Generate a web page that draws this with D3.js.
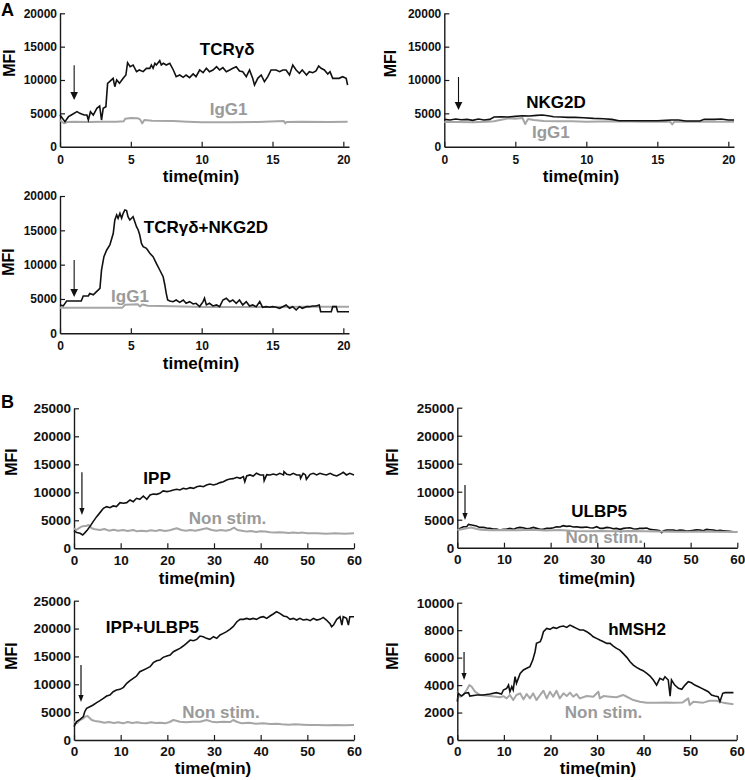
<!DOCTYPE html>
<html><head><meta charset="utf-8">
<script src="https://cdn.jsdelivr.net/npm/d3@7/dist/d3.min.js"></script>
<style>
body{margin:0;background:#fff;}
svg{display:block;font-family:"Liberation Sans",Arial,Helvetica,sans-serif;font-weight:bold;}
</style></head><body><svg id="chart" width="745" height="780"></svg>
<script>
// ---------- tick labels ----------
const ticksA_x = [0,5,10,15,20];
const ticksA_y = [0,5000,10000,15000,20000];
const ticksB_x = [0,10,20,30,40,50,60];
const ticksB_y = [0,5000,10000,15000,20000,25000];
const ticksB4_y = [0,2000,4000,6000,8000,10000];

// ---------- series [time(min), MFI] ----------
const tcrgd = [[0,4750],[0.35,3750],[0.6,4500],[0.8,4750],[1.2,5250],[1.4,5000],[1.7,4750],[1.9,4750],[2.0,4000],[2.15,5250],[2.35,4750],[2.6,5750],[2.8,6100],[2.93,4000],[3.05,5750],[3.24,6000],[3.36,9500],[3.5,9750],[3.75,10250],[3.87,9000],[4.0,10000],[4.2,9500],[4.46,10250],[4.65,10750],[4.77,12600],[4.95,12000],[5.16,12250],[5.4,11250],[5.6,11500],[5.87,11250],[6.1,11750],[6.34,11750],[6.45,12250],[6.57,11750],[6.7,12500],[6.8,12250],[7.04,12900],[7.15,12250],[7.3,12500],[7.5,12250],[7.75,12500],[8.0,11500],[8.2,10500],[8.45,10750],[8.7,10400],[8.9,10750],[9.15,10350],[9.4,10900],[9.6,10500],[9.86,11500],[10.1,11100],[10.33,11750],[10.55,11250],[10.8,11500],[11.05,12000],[11.27,11500],[11.5,11850],[11.74,11250],[11.98,11500],[12.2,11750],[12.44,12000],[12.67,11350],[12.9,11250],[13.15,10500],[13.38,11500],[13.6,10250],[13.73,9250],[13.96,10250],[14.2,10750],[14.43,9750],[14.67,10500],[14.9,11500],[15.26,11500],[15.5,11250],[15.73,11500],[15.96,11500],[16.2,10750],[16.43,12250],[16.67,11500],[16.9,11000],[17.1,11500],[17.4,10750],[17.6,11250],[17.84,11100],[18.07,11350],[18.26,12100],[18.43,11750],[18.66,11500],[18.9,10900],[19.06,11250],[19.25,10250],[19.5,10250],[19.7,10250],[19.95,10500],[20.2,10250],[20.3,9250]];
const igg1_a1 = [[0,4000],[0.15,3700],[0.3,3500],[0.5,3700],[1,3750],[2,3700],[3,3750],[4,3750],[4.5,3800],[4.6,4200],[5,4300],[5.5,4250],[5.65,4100],[5.8,3500],[5.95,4000],[6.5,3900],[8,3850],[9,3750],[10,3650],[12,3650],[14,3700],[15.8,3850],[15.9,3500],[16,3700],[17,3750],[19,3700],[20.3,3750]];
const nkg2d = [[0,4100],[0.4,4000],[0.8,4150],[1.2,4050],[1.6,4100],[2.0,3950],[2.4,4150],[2.8,4000],[3.2,4100],[3.5,4450],[4,4500],[4.5,4450],[5,4550],[5.5,4650],[6,4600],[6.5,4700],[6.9,4750],[7.3,4650],[7.7,4500],[8.2,4450],[8.7,4400],[9.2,4400],[9.8,4350],[10.5,4250],[11.2,4200],[11.8,4100],[12.3,3900],[13,3900],[14,3900],[15,3900],[15.6,3950],[16,4000],[16.5,4000],[17,3850],[18,3850],[18.3,4100],[19,4100],[19.5,4150],[20,4000],[20.4,4000]];
const igg1_a2 = [[0,3700],[1,3700],[2,3650],[3,3750],[3.5,3800],[4.2,4100],[4.5,4250],[5,4200],[5.5,4300],[5.7,3400],[5.9,4150],[6.3,4000],[7,3850],[8,3800],[9,3800],[10,3750],[12,3800],[14,3750],[15.9,3750],[16.05,3350],[16.2,3750],[17,3750],[20.4,3750]];
const tcrgdNkg2d = [[0,4125],[0.23,4000],[0.47,4700],[1.5,4700],[1.64,5440],[2.0,5440],[2.1,5800],[2.35,5600],[2.58,6070],[2.82,6550],[2.93,9200],[3.1,11160],[3.29,12100],[3.52,12860],[3.76,14560],[3.87,16500],[4.0,17230],[4.1,16750],[4.23,17470],[4.35,16750],[4.46,17470],[4.58,17960],[4.7,17870],[4.8,16990],[4.93,16500],[5.05,16750],[5.16,16990],[5.28,16260],[5.4,15530],[5.52,15050],[5.63,14320],[5.75,13100],[5.87,12620],[6.1,12380],[6.34,11650],[6.57,11160],[6.8,10190],[7.04,9220],[7.28,8250],[7.4,7040],[7.5,5820],[7.6,4850],[7.75,4700],[7.98,4600],[8.2,4850],[8.45,4510],[8.7,4850],[8.9,4370],[9.15,4610],[9.4,4270],[9.6,4370],[9.86,3900],[10.1,4610],[10.2,5100],[10.33,4130],[10.55,4370],[10.8,3980],[11.05,4130],[11.27,3880],[11.5,4850],[11.74,5100],[11.98,4610],[12.2,4850],[12.44,4370],[12.67,4850],[12.9,4130],[13.15,4610],[13.38,3980],[13.6,4130],[13.85,3880],[14.1,4610],[14.3,3790],[14.55,3880],[14.8,3790],[15.0,3880],[15.26,3790],[15.5,3640],[15.73,3880],[15.96,4130],[16.2,3640],[16.43,3880],[16.67,3400],[16.9,3880],[17.1,3640],[17.4,3880],[17.6,3880],[17.84,3980],[18.07,3980],[18.3,4130],[18.4,3150],[18.8,3150],[19.15,3150],[19.25,3880],[19.5,3880],[19.6,3150],[19.95,3150],[20.4,3150]];
const igg1_a3 = [[0,3740],[4.4,3740],[4.6,4150],[5.5,4220],[5.65,3900],[5.8,4200],[6.2,4000],[8,3950],[10,3830],[14,3830],[17,3850],[20.4,3880]];

const ipp = [[0,3150],[0.57,2800],[1.3,2680],[1.86,2380],[2.36,2800],[2.86,3270],[3.4,3870],[4.1,4760],[4.86,5650],[5.57,6370],[6.3,7140],[7.0,7440],[7.7,7260],[8.4,7560],[9.1,7440],[9.86,8150],[10.6,8040],[11.3,8150],[12,8630],[12.7,8330],[13.4,8930],[14.1,8750],[14.86,9340],[15.6,8750],[16.3,9520],[17,9700],[17.7,9640],[18.4,9820],[19.1,10240],[19.9,10120],[20.6,10240],[21.3,10420],[22,10540],[22.7,10420],[23.4,10700],[24.1,10600],[24.9,10830],[25.6,10700],[26.3,11000],[27,11130],[27.7,11000],[28.4,11300],[29.1,11480],[29.9,11300],[30.6,11480],[31.3,11730],[32,11900],[32.7,12200],[33.4,12380],[34.1,12440],[34.9,12680],[35.6,12500],[36.3,12800],[36.6,11900],[37,12910],[37.7,13100],[38.4,12910],[39.1,13400],[39.9,13100],[40.6,13100],[40.75,12080],[41.3,13150],[42,13100],[42.7,13270],[43.4,13100],[44.1,13390],[44.9,13100],[45.0,13690],[45.6,13210],[46.3,13100],[47,13390],[47.7,13100],[48.4,13100],[48.55,12500],[49.1,13390],[49.6,13100],[49.8,12320],[50.6,13210],[51.3,13390],[52,13100],[52.7,13390],[53.4,13210],[54.1,13100],[54.9,13390],[55.6,13100],[56.3,12910],[57,13210],[57.7,13570],[58.4,13100],[59.1,13390],[60,13100]];
const nonstim_b1 = [[0,3570],[0.5,3270],[1.0,3570],[1.6,3870],[2.2,3990],[2.7,3990],[3.1,4170],[3.8,3570],[4.5,3390],[5.6,3270],[6.5,3450],[7.5,3150],[8.5,3330],[9.5,3150],[10.5,3270],[11.5,3090],[12.7,3270],[13.5,3030],[14.5,3150],[15.5,3030],[16.5,3210],[17.5,3090],[18.4,3270],[19.5,3090],[20.5,3210],[22,3570],[23,3270],[24,3150],[25,3270],[26,3150],[27,3330],[28.4,3570],[29.5,3270],[30.5,3150],[31.5,3270],[32.5,3150],[33.5,3330],[34.3,3690],[35,3270],[36,3150],[37,2980],[38,3090],[39,2920],[40,3030],[41,2980],[42,2860],[43,2800],[44,2860],[45,2800],[46,2740],[47,2800],[48,2740],[49,2800],[50,2680],[52,2680],[54,2620],[56,2680],[58,2620],[60,2680]];
const ulbp5 = [[0,3040],[0.57,3450],[1.3,3750],[2,3750],[2.4,4170],[3.1,4050],[4.1,3870],[4.8,3630],[5.6,3630],[6.3,3510],[7,3450],[7.7,3330],[8.4,3330],[9.1,3150],[9.9,3270],[10.6,3330],[11.3,3450],[12,3270],[12.7,3510],[13.4,3630],[14.1,3570],[14.9,3390],[15.6,3450],[16.3,3630],[17,3450],[17.7,3270],[18.4,3270],[19.1,3450],[19.9,3450],[20.6,3570],[21.3,3750],[22,3690],[22.7,3930],[23.4,3810],[24.1,3870],[24.9,3690],[25.6,3750],[26.3,3630],[27,3630],[27.7,3690],[28.4,3570],[29.1,3510],[29.9,3750],[30.6,3450],[31.3,3450],[32,3630],[32.7,3570],[33.4,3390],[34.1,3450],[34.9,3270],[35.6,3450],[36.3,3510],[37,3570],[37.7,3390],[38.4,3330],[39.1,3450],[39.9,3450],[40.6,3510],[41.3,3270],[42,3210],[42.7,3150],[43.4,3030],[43.8,2680],[44.2,3030],[44.9,3150],[45.6,3150],[46.3,3150],[47,3030],[47.7,3150],[48.4,3090],[49.1,2970],[49.9,3030],[50.6,3090],[51.3,3210],[52,3150],[52.7,3030],[53.4,3270],[54.1,3210],[54.9,3150],[55.6,3030],[56.3,3090],[57,3030],[57.7,2970],[58.4,2920],[59.1,2860],[60,2860]];
const nonstim_b2 = [[0,3150],[1,3300],[2,3450],[3,3600],[4,3400],[5,3200],[7,3100],[10,3150],[13,3100],[16,3200],[19,3050],[22,3150],[25,3000],[28,2950],[31,3000],[34,2950],[37,3000],[40,2950],[43,2900],[46,2850],[50,2850],[55,2850],[60,2800]];
const ippUlbp5 = [[0,2390],[0.57,3290],[1.3,3710],[2,4190],[2.3,5080],[2.7,5680],[3.4,5980],[4.1,6280],[4.86,6700],[5.57,7060],[6.3,7480],[7,7900],[7.7,8070],[8.4,8670],[9.1,8970],[9.86,9090],[10.6,9450],[11.3,10170],[12,10650],[12.7,11060],[13.4,11480],[14.1,12260],[14.9,12560],[15.6,12860],[16.3,13160],[17,13880],[17.7,14230],[18.4,14350],[19.1,14830],[19.9,15070],[20.6,15250],[21.3,15850],[22,16150],[22.7,16450],[23.4,16870],[24.1,17340],[24.9,17940],[25.6,17820],[26.3,18060],[27,18660],[27.7,18540],[28.4,18240],[29.1,18060],[29.9,18540],[30.6,18240],[31.3,18840],[32,19140],[32.7,19440],[33.4,19860],[34.1,20340],[34.9,21230],[35.6,21650],[36.3,21650],[37,21830],[37.7,21650],[38.4,21830],[39.1,21650],[39.9,22010],[40.6,22130],[41.3,21830],[42,22250],[42.7,22610],[43.4,23030],[44.1,22730],[44.9,22250],[45.6,22130],[46.3,21650],[47,21830],[47.7,21530],[48.4,21830],[49.1,21530],[49.9,21650],[50.6,21410],[51.3,21830],[52,21530],[52.7,21650],[53.4,22010],[54.1,21530],[54.9,20810],[55.2,20330],[55.6,20630],[56.3,21650],[57,22130],[57.4,20630],[57.7,22130],[58.4,21830],[58.8,20630],[59.1,22130],[60,22130]];
const nonstim_b3 = [[0,3290],[0.6,3000],[1.3,3590],[2.0,3890],[2.4,4190],[2.9,4300],[3.3,4000],[3.8,3590],[4.5,3410],[5.6,3290],[6.5,3110],[7.5,3230],[8.5,3050],[9.5,3170],[10.5,2990],[11.5,3230],[12.5,3050],[13.5,3170],[14.5,3050],[15.5,2990],[16.5,3170],[17.5,3050],[18.5,3110],[19.5,2990],[20.5,3230],[21.3,3590],[22.7,3290],[24,3170],[25.5,3290],[27,3290],[28.4,3590],[29.5,3290],[30.5,3170],[32,3290],[33.5,3230],[34.1,3590],[35,3230],[36,2990],[37.5,3110],[39,2930],[40.5,2990],[42,2870],[43.5,2930],[44.5,2810],[46,2750],[47.5,2810],[49,2750],[50.5,2690],[52,2690],[54,2630],[56,2690],[58,2630],[60,2690]];
const hmsh2 = [[0,2790],[0.2,3400],[0.9,3200],[1.6,3400],[2.4,3450],[2.7,3200],[4.2,3280],[5.6,3280],[7,3350],[8.4,3450],[9.5,3350],[9.9,3640],[10.6,3760],[11,4000],[11.3,3520],[11.7,3880],[12,3640],[12.4,4610],[12.7,4130],[13.5,4850],[14.2,5100],[14.9,5220],[15.6,5340],[16.2,5820],[16.7,6430],[17,7040],[17.8,7160],[18.1,7400],[18.5,7890],[19.2,8130],[19.9,8060],[20.6,8200],[21.3,8130],[22,8250],[22.8,8300],[23.5,8200],[24.2,8370],[24.9,8250],[25.6,8130],[26.3,8010],[27.1,8010],[27.8,7890],[28.5,7720],[29.2,7520],[29.9,7400],[30.6,7280],[31.4,7160],[32.1,7040],[32.8,7040],[33.5,6840],[34.2,6670],[34.9,6550],[35.6,6310],[36.4,6020],[37.1,5700],[37.8,5460],[38.5,5290],[39.2,5150],[39.9,5050],[40.7,4850],[41.4,4660],[42.1,4370],[42.8,4000],[43.5,4490],[44.2,4370],[44.6,4610],[45.3,4370],[45.7,3200],[46,4370],[46.7,4000],[47.5,3760],[48.2,3690],[48.9,4000],[49.6,4250],[50.3,4170],[51,4000],[51.8,3880],[52.5,3760],[53.2,3640],[53.9,3520],[54.6,3280],[55.3,3200],[56,3150],[56.4,2790],[57,3400],[57.5,3450],[59.3,3450]];
const nonstim_b4 = [[0,3520],[0.6,3150],[1.3,3280],[2,3640],[2.6,4000],[3.1,3880],[3.8,3520],[4.9,3280],[7,3200],[9.2,3110],[9.9,3200],[10.6,3030],[11.3,3280],[12,2910],[12.7,3280],[13.5,3400],[14.2,2960],[14.9,3350],[15.6,3030],[16.3,3400],[17,2910],[17.8,3280],[18.5,3590],[19.2,3030],[19.9,3520],[20.6,3150],[21.3,3590],[22,3030],[22.8,3400],[23.5,3200],[24.2,3450],[24.9,3150],[25.6,3350],[26.3,3030],[27.8,3200],[29.2,3150],[30.3,3520],[30.6,3030],[31.4,3200],[32.8,3150],[34.2,3110],[35.6,3280],[36.4,3150],[37.8,2910],[39.2,2790],[40.7,2720],[42.8,2720],[44.9,2740],[46.3,2720],[48.4,2740],[49.6,3030],[49.9,2550],[50.7,2790],[52.8,2720],[54.2,2860],[55.6,2860],[57.1,2720],[59.3,2600]];

// ---------- series names ----------
const stimNames = ["TCRγδ","NKG2D","TCRγδ+NKG2D","IPP","ULBP5","IPP+ULBP5","hMSH2"];
const ctrlNames = ["IgG1","Non stim."];

// ---------- panel layout ----------
const panels = [
  {x:[60,349], y:[146.7,13.3], xd:[0,20.4], yd:[0,20000], xt:ticksA_x, yt:ticksA_y, fs:12, pad:8.5,
   stim:tcrgd, ctrl:igg1_a1, sName:stimNames[0], cName:ctrlNames[0],
   sLab:[11.8,13750], cLab:[11.9,4750], arrow:[1.0,12200,7000], big:true,
   mfi:[14.5,63], tm:[201,182]},
  {x:[444.3,734], y:[146.7,13.3], xd:[0,20.4], yd:[0,20000], xt:ticksA_x, yt:ticksA_y, fs:12, pad:8.5,
   stim:nkg2d, ctrl:igg1_a2, sName:stimNames[1], cName:ctrlNames[0],
   sLab:[7.87,5800], cLab:[7.5,1300], arrow:[1.0,10450,5500], big:true,
   mfi:[395.5,63.5], tm:[581,182]},
  {x:[60,349], y:[333.3,196], xd:[0,20.4], yd:[0,20000], xt:ticksA_x, yt:ticksA_y, fs:12, pad:8.5,
   stim:tcrgdNkg2d, ctrl:igg1_a3, sName:stimNames[2], cName:ctrlNames[0],
   sLab:[10.3,14610], cLab:[4.94,4560], arrow:[1.0,10680,5290], big:true,
   mfi:[14,262], tm:[201,369]},
  {x:[74,354], y:[548.3,408.3], xd:[0,60], yd:[0,25000], xt:ticksB_x, yt:ticksB_y, fs:13.5, pad:7,
   stim:ipp, ctrl:nonstim_b1, sName:stimNames[3], cName:ctrlNames[1],
   sLab:[17.8,11480], cLab:[32.9,4340], arrow:[1.7,13600,5950], big:false,
   mfi:[17,462], tm:[197,584]},
  {x:[457.3,737.3], y:[547.7,407.7], xd:[0,60], yd:[0,25000], xt:ticksB_x, yt:ticksB_y, fs:13.5, pad:7,
   stim:ulbp5, ctrl:nonstim_b2, sName:stimNames[4], cName:ctrlNames[1],
   sLab:[30.4,5480], cLab:[31.5,840], arrow:[1.65,11200,4950], big:false,
   mfi:[398,462], tm:[597,584], ctrlFirst:true},
  {x:[74,354], y:[740,600.7], xd:[0,60], yd:[0,25000], xt:ticksB_x, yt:ticksB_y, fs:13.5, pad:6,
   stim:ippUlbp5, ctrl:nonstim_b3, sName:stimNames[5], cName:ctrlNames[1],
   sLab:[16.8,19200], cLab:[31.5,3950], arrow:[1.5,13460,6820], big:false,
   mfi:[17,656], tm:[213,774]},
  {x:[457.3,736.7], y:[740,602.7], xd:[0,60], yd:[0,10000], xt:ticksB_x, yt:ticksB4_y, fs:13.5, pad:6,
   stim:hmsh2, ctrl:nonstim_b4, sName:stimNames[6], cName:ctrlNames[1],
   sLab:[38.6,7650], cLab:[31.4,1600], arrow:[1.45,6410,4370], big:false,
   mfi:[398,656], tm:[598,774]}
];

const BLACK = "#111", GREY = "#a6a6a6", GREYTXT = "#9a9a9a", AXIS = "#1a1a1a";
const svg = d3.select("#chart");
svg.append("rect").attr("width",745).attr("height",780).attr("fill","#fff");

svg.append("text").attr("x",1).attr("y",16).attr("font-size",18).attr("fill","#000").text("A");
svg.append("text").attr("x",1).attr("y",408).attr("font-size",18).attr("fill","#000").text("B");

panels.forEach(p => {
  const x = d3.scaleLinear().domain(p.xd).range(p.x);
  const y = d3.scaleLinear().domain(p.yd).range(p.y);
  const g = svg.append("g");

  const xAxis = d3.axisBottom(x).tickValues(p.xt).tickFormat(d3.format("d"))
      .tickSizeInner(-5).tickSizeOuter(0).tickPadding(p.pad);
  const yAxis = d3.axisLeft(y).tickValues(p.yt).tickFormat(d3.format("d"))
      .tickSizeInner(-5).tickSizeOuter(0).tickPadding(3);

  const gx = g.append("g").attr("transform",`translate(0,${p.y[0]})`).call(xAxis);
  const gy = g.append("g").attr("transform",`translate(${p.x[0]},0)`).call(yAxis);
  [gx,gy].forEach(a => {
    a.attr("font-family",null).attr("font-size",p.fs);
    a.select(".domain").attr("stroke",AXIS).attr("stroke-width",1.4);
    a.selectAll(".tick line").attr("stroke",AXIS).attr("stroke-width",1.2);
    a.selectAll(".tick text").attr("fill","#111");
  });
  gy.selectAll(".tick").filter(d => d===0).select("line").remove();

  const line = d3.line().x(d => x(d[0])).y(d => y(d[1]));
  const drawCtrl = () => g.append("path").datum(p.ctrl).attr("d",line)
      .attr("fill","none").attr("stroke",GREY).attr("stroke-width",2).attr("stroke-linejoin","round");
  const drawStim = () => g.append("path").datum(p.stim).attr("d",line)
      .attr("fill","none").attr("stroke",BLACK).attr("stroke-width",1.6).attr("stroke-linejoin","miter");
  if (p.ctrlFirst) { drawStim(); drawCtrl(); } else { drawCtrl(); drawStim(); }

  // labels
  g.append("text").attr("x",x(p.sLab[0])).attr("y",y(p.sLab[1])).attr("text-anchor","middle")
    .attr("font-size",17).attr("fill","#000").text(p.sName);
  g.append("text").attr("x",x(p.cLab[0])).attr("y",y(p.cLab[1])).attr("text-anchor","middle")
    .attr("font-size",17).attr("fill",GREYTXT).text(p.cName);

  // arrow
  const ax = x(p.arrow[0]), ay0 = y(p.arrow[1]), ay1 = y(p.arrow[2]);
  const hw = p.big ? 3.8 : 2.6, hl = p.big ? 8 : 7;
  g.append("line").attr("x1",ax).attr("x2",ax).attr("y1",ay0).attr("y2",ay1-hl+1)
    .attr("stroke","#111").attr("stroke-width",p.big?1.1:1.2);
  g.append("path").attr("d",`M${ax-hw},${ay1-hl}L${ax+hw},${ay1-hl}L${ax},${ay1}Z`).attr("fill","#111");

  // axis titles
  svg.append("text").attr("transform",`translate(${p.mfi[0]},${p.mfi[1]}) rotate(-90)`)
    .attr("text-anchor","middle").attr("font-size",16).attr("fill","#000").text("MFI");
  svg.append("text").attr("x",p.tm[0]).attr("y",p.tm[1]).attr("text-anchor","middle")
    .attr("font-size",17).attr("fill","#000").text("time(min)");
});
</script></body></html>
